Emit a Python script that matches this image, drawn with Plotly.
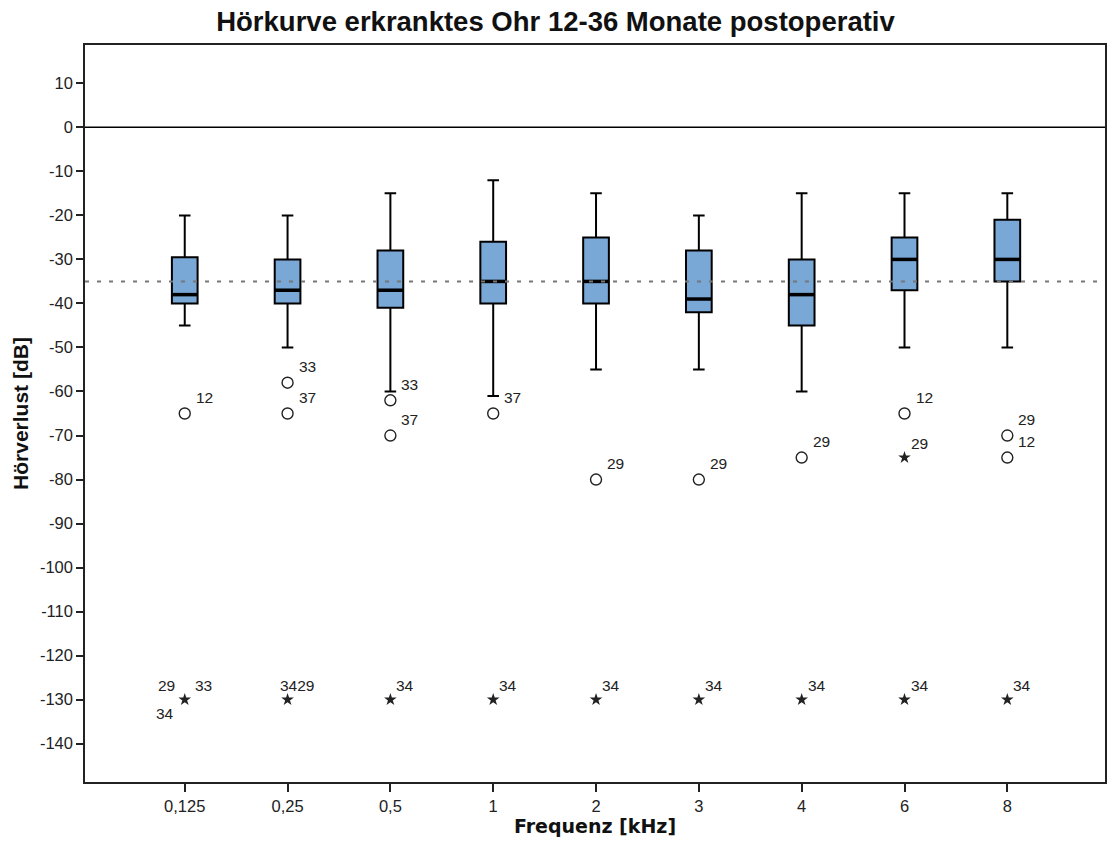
import plotly.graph_objects as go

# Frequencies and box statistics (dB hearing level)
freqs = ["0,125", "0,25", "0,5", "1", "2", "3", "4", "6", "8"]
upper_whisker = [-20, -20, -15, -12, -15, -20, -15, -15, -15]
q3 = [-29.5, -30, -28, -26, -25, -28, -30, -25, -21]
median = [-38, -37, -37, -35, -35, -39, -38, -30, -30]
q1 = [-40, -40, -41, -40, -40, -42, -45, -37, -35]
lower_whisker = [-45, -50, -60, -61, -55, -55, -60, -50, -50]

# Outliers: frequency index, value, case numbers
mild_idx = [0, 1, 1, 2, 2, 3, 4, 5, 6, 7, 8, 8]
mild_val = [-65, -58, -65, -62, -70, -65, -80, -80, -75, -65, -70, -75]
mild_ids = [["12"], ["33"], ["37"], ["33"], ["37"], ["37"], ["29"], ["29"], ["29"], ["12"], ["29"], ["12"]]

extreme_idx = [0, 1, 2, 3, 4, 5, 6, 7, 7, 8]
extreme_val = [-130, -130, -130, -130, -130, -130, -130, -75, -130, -130]
extreme_ids = [["29", "33", "34"], ["34", "29"], ["34"], ["34"], ["34"], ["34"], ["34"], ["29"], ["34"], ["34"]]

reference_level = -35
y_ticks = list(range(-140, 11, 10))

BOX_W = 0.25
FILL = "#79a7d6"
FONT = "Liberation Sans, Arial, sans-serif"

fig = go.Figure()

fig.add_trace(go.Box(
    x=list(range(len(freqs))),
    q1=q1, median=median, q3=q3,
    lowerfence=lower_whisker, upperfence=upper_whisker,
    width=BOX_W, whiskerwidth=0.45,
    fillcolor=FILL, line=dict(color="black", width=2),
    boxpoints=False, showlegend=False, hoverinfo="skip",
))

# Thicker median bars
for i, m in enumerate(median):
    fig.add_trace(go.Scatter(
        x=[i - BOX_W / 2, i + BOX_W / 2], y=[m, m], mode="lines",
        line=dict(color="black", width=3.5), showlegend=False, hoverinfo="skip",
    ))

fig.add_trace(go.Scatter(
    x=mild_idx, y=mild_val, mode="markers",
    marker=dict(symbol="circle-open", size=11, color="#222", line=dict(width=1.4)),
    showlegend=False, hoverinfo="skip",
))
fig.add_trace(go.Scatter(
    x=extreme_idx, y=extreme_val, mode="markers",
    marker=dict(symbol="star", size=9.5, color="#222", line=dict(width=0)),
    showlegend=False, hoverinfo="skip",
))

label_font = dict(family=FONT, size=15.5, color="#222")


def add_labels(xs, ys, ids, dx, dy):
    for x, y, lab in zip(xs, ys, ids):
        if len(lab) == 3:
            spots = [(-29, dy), (8, dy), (-31, -dy)]
            for txt, (sx, sy) in zip(lab, spots):
                fig.add_annotation(x=x, y=y, text=txt, showarrow=False, xanchor="left",
                                   yanchor="middle", xshift=sx, yshift=sy, font=label_font)
        elif len(lab) == 2:
            fig.add_annotation(x=x, y=y, text="".join(lab), showarrow=False, xanchor="center",
                               yanchor="middle", xshift=9, yshift=dy, font=label_font)
        else:
            fig.add_annotation(x=x, y=y, text=lab[0], showarrow=False, xanchor="left",
                               yanchor="middle", xshift=dx, yshift=dy, font=label_font)


add_labels(mild_idx, mild_val, mild_ids, 9, 16)
add_labels(extreme_idx, extreme_val, extreme_ids, 4, 14)

fig.add_hline(y=0, line=dict(color="black", width=1.5))
fig.add_hline(y=reference_level, line=dict(color="#777", width=2, dash="4px,8px"))

fig.update_layout(
    width=1111, height=843,
    margin=dict(l=85, r=4, t=45, b=61),
    paper_bgcolor="white", plot_bgcolor="white",
    title=dict(text="<b>Hörkurve erkranktes Ohr 12-36 Monate postoperativ</b>",
               x=0.5, xanchor="center", y=0.975, yanchor="middle",
               font=dict(family="Liberation Sans Narrow, Arial Narrow, Liberation Sans, sans-serif",
                         size=27.5, color="#111")),
    font=dict(family=FONT),
)

fig.update_xaxes(
    range=[-0.97, 8.95],
    tickmode="array", tickvals=list(range(len(freqs))), ticktext=freqs,
    ticks="outside", ticklen=8, tickwidth=2, tickcolor="#222",
    tickfont=dict(family=FONT, size=16.5, color="#222"),
    showgrid=False, zeroline=False,
    showline=True, linecolor="#222", linewidth=1.5, mirror=True,
    title=dict(text="<b>Frequenz [kHz]</b>",
               font=dict(family="DejaVu Sans, sans-serif", size=19, color="#111"), standoff=5),
)
fig.update_yaxes(
    range=[-148.7, 18.7],
    tickmode="array", tickvals=y_ticks, ticktext=[str(v) for v in y_ticks],
    ticks="outside", ticklen=7, tickwidth=2, tickcolor="#222",
    tickfont=dict(family=FONT, size=16.5, color="#222"),
    showgrid=False, zeroline=False,
    showline=True, linecolor="#222", linewidth=1.5, mirror=True,
    title=dict(text="<b>Hörverlust [dB]</b>",
               font=dict(family="Liberation Sans Narrow, Arial Narrow, Liberation Sans, sans-serif",
                         size=21, color="#111"),
               standoff=6),
)

fig.write_html("out.html")
